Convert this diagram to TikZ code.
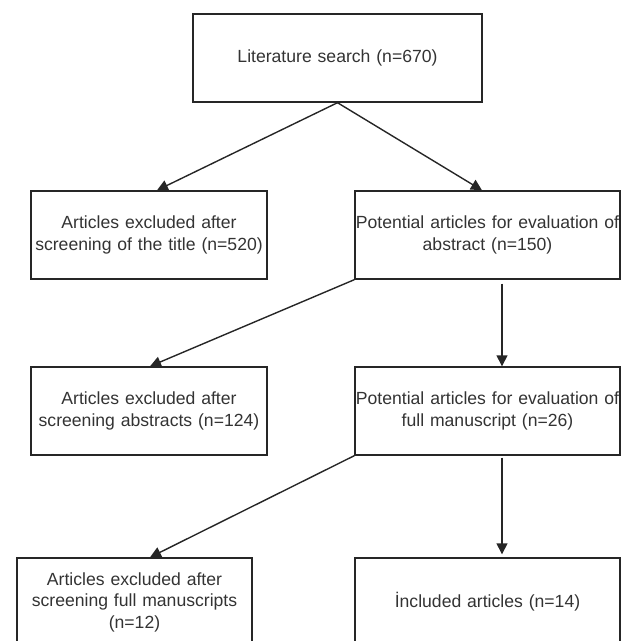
\documentclass[tikz,border=0pt]{standalone}
\usepackage{fontspec}
\setmainfont{Liberation Sans}
\usetikzlibrary{arrows.meta}
\tikzset{
  box/.style={draw=black!85, line width=1.4bp, inner sep=0pt, align=center,
    text=black!80, font=\fontsize{17.6bp}{21.5bp}\selectfont},
  arr/.style={draw=black!85, line width=1.4bp, -{Triangle[length=11bp,width=11bp]}}
}
\begin{document}
\begin{tikzpicture}[x=1bp,y=-1bp]
\useasboundingbox (0,0) rectangle (627,641);
\node[box, minimum width=289bp, minimum height=88bp, text width=285bp] (top) at (337.5,58) {Literature search (n=670)};
\node[box, minimum width=236bp, minimum height=88bp, text width=232bp] (l2) at (149,235) {Articles excluded after\\screening of the title (n=520)};
\node[box, minimum width=265bp, minimum height=88bp, text width=265bp] (r2) at (487.5,235) {Potential articles for evaluation of\\abstract (n=150)};
\node[box, minimum width=236bp, minimum height=88bp, text width=232bp] (l3) at (149,411) {Articles excluded after\\screening abstracts (n=124)};
\node[box, minimum width=265bp, minimum height=88bp, text width=265bp] (r3) at (487.5,411) {Potential articles for evaluation of\\full manuscript (n=26)};
\node[box, minimum width=235bp, minimum height=88bp, text width=231bp] (l4) at (134.5,602) {Articles excluded after\\screening full manuscripts\\(n=12)};
\node[box, minimum width=265bp, minimum height=88bp, text width=261bp] (r4) at (487.5,602) {İncluded articles (n=14)};
\draw[arr] (top.south) -- ([xshift=8bp]l2.north);
\draw[arr] (top.south) -- ([xshift=-5.5bp]r2.north);
\draw[arr] (r2.south west) -- ([xshift=1bp]l3.north);
\draw[arr] ([xshift=14.5bp,yshift=-4bp]r2.south) -- ([xshift=14.5bp]r3.north);
\draw[arr] (r3.south west) -- ([xshift=15.5bp]l4.north);
\draw[arr] ([xshift=14.5bp,yshift=-2bp]r3.south) -- ([xshift=14.5bp,yshift=3bp]r4.north);
\end{tikzpicture}
\end{document}
